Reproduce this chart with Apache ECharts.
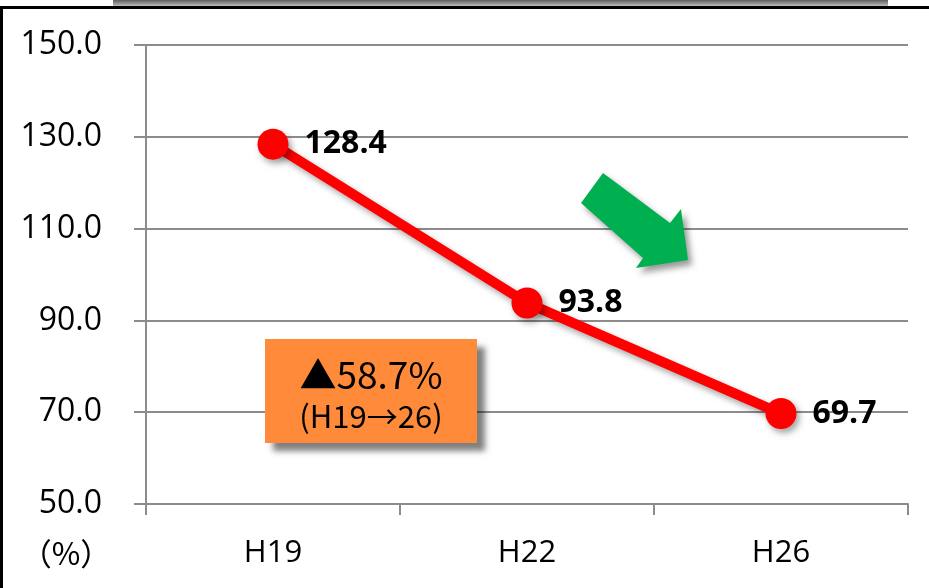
<!DOCTYPE html>
<html>
<head>
<meta charset="utf-8">
<script src="https://cdn.jsdelivr.net/npm/echarts@6/dist/echarts.min.js"></script>
<style>
html,body{margin:0;padding:0;background:#fff;}
#chart{width:929px;height:588px;}
</style>
</head>
<body>
<div id="chart"></div>
<script>
const categories = ['H19', 'H22', 'H26'];
const values = [128.4, 93.8, 69.7];
const yMin = 50, yMax = 150, yStep = 20;
const unitLabel = '（%）';
const calloutMain = '▲58.7%';
const calloutSub = '(H19→26)';

const chart = echarts.init(document.getElementById('chart'), null, {renderer: 'canvas'});
const latin = '"Open Sans", "Noto Sans", sans-serif';
const cjk = '"Noto Sans CJK JP", sans-serif';
const gridColor = '#8c8c8c';

const option = {
  animation: false,
  backgroundColor: '#ffffff',
  grid: {left: 146, right: 21, top: 45, bottom: 84, containLabel: false},
  xAxis: {
    type: 'category',
    data: categories,
    boundaryGap: true,
    axisLine: {show: true, lineStyle: {color: gridColor, width: 2}},
    axisTick: {show: true, length: 11, alignWithLabel: false, lineStyle: {color: gridColor, width: 2}},
    axisLabel: {color: '#000', fontFamily: latin, fontSize: 31, lineHeight: 32, margin: 33}
  },
  yAxis: {
    type: 'value',
    min: yMin, max: yMax, interval: yStep,
    axisLine: {show: true, lineStyle: {color: gridColor, width: 2}},
    axisTick: {show: true, length: 12, lineStyle: {color: gridColor, width: 2}},
    splitLine: {show: true, lineStyle: {color: gridColor, width: 2}},
    axisLabel: {color: '#000', fontFamily: latin, fontSize: 32, margin: 44,
      formatter: v => v.toFixed(1)}
  },
  series: [{
    type: 'line',
    data: values,
    symbol: 'circle',
    symbolSize: 31,
    lineStyle: {color: '#ff0000', width: 10, shadowColor: 'rgba(0,0,0,0.35)', shadowBlur: 6, shadowOffsetX: 3, shadowOffsetY: 4},
    itemStyle: {color: '#ff0000', shadowColor: 'rgba(0,0,0,0.35)', shadowBlur: 6, shadowOffsetX: 3, shadowOffsetY: 4},
    label: {
      show: true, position: 'right', distance: 16,
      color: '#000', fontFamily: latin, fontWeight: 'bold', fontSize: 32,
      formatter: p => p.value.toFixed(1)
    },
    z: 5
  }],
  graphic: [
    {type: 'rect', z: 1, shape: {x: 113, y: 0, width: 775, height: 6},
      style: {fill: new echarts.graphic.LinearGradient(0, 0, 0, 1, [{offset: 0, color: '#5f5f5f'}, {offset: 1, color: '#bdbdbd'}])}},
    {type: 'line', z: 2, shape: {x1: 0, y1: 7.5, x2: 929, y2: 7.5}, style: {stroke: '#000', lineWidth: 3}},
    {type: 'line', z: 2, shape: {x1: 1.5, y1: 7, x2: 1.5, y2: 588}, style: {stroke: '#000', lineWidth: 3}},
    {type: 'text', z: 3, x: 66, y: 553,
      style: {text: unitLabel, fill: '#000', font: '31px ' + cjk, textAlign: 'center', textVerticalAlign: 'middle'}},
    {type: 'polygon', z: 3,
      shape: {points: [[603, 173], [670, 223], [681, 209], [688, 260], [636, 268], [643, 258], [581, 203]]},
      style: {fill: '#00b050', shadowColor: 'rgba(0,0,0,0.4)', shadowBlur: 6, shadowOffsetX: 4, shadowOffsetY: 5}},
    {type: 'rect', z: 3, shape: {x: 265, y: 339, width: 212, height: 104},
      style: {fill: '#ff8b3a', shadowColor: 'rgba(0,0,0,0.5)', shadowBlur: 6, shadowOffsetX: 8, shadowOffsetY: 8}},
    {type: 'text', z: 4, x: 371, y: 375,
      style: {text: calloutMain, fill: '#000', font: '37px ' + cjk, textAlign: 'center', textVerticalAlign: 'middle'}},
    {type: 'text', z: 4, x: 371, y: 416,
      style: {text: calloutSub, fill: '#000', font: '31px ' + cjk, textAlign: 'center', textVerticalAlign: 'middle'}}
  ]
};
chart.setOption(option);
</script>
</body>
</html>
